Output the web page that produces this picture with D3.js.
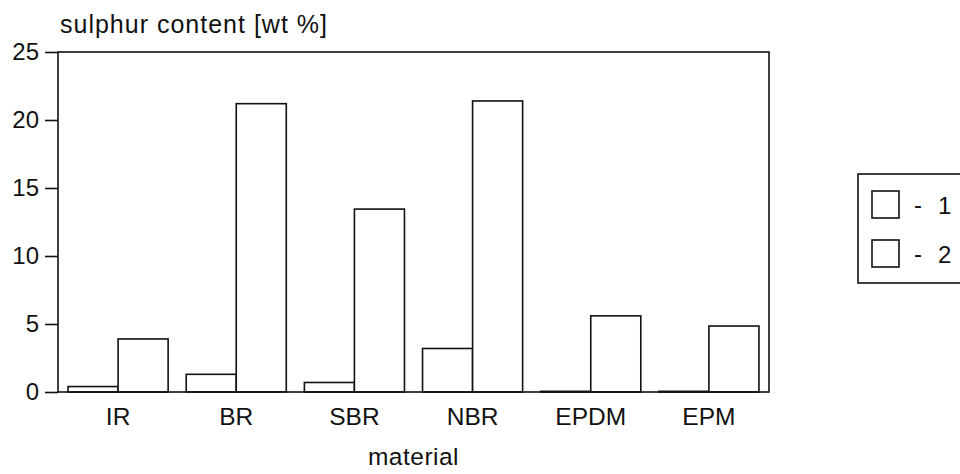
<!DOCTYPE html>
<html>
<head>
<meta charset="utf-8">
<script src="https://cdn.jsdelivr.net/npm/d3@7"></script>
<style>
  html, body { margin: 0; padding: 0; background: #fff; }
  svg { display: block; }
  text { font-family: "Liberation Sans", Arial, Helvetica, sans-serif; fill: #111; }
</style>
</head>
<body>
<svg id="chart" width="960" height="474"></svg>
<script>
// Sulphur content of rubber materials, two series
const materials = ["IR", "BR", "SBR", "NBR", "EPDM", "EPM"];
const seriesKeys = ["1", "2"];
const series1 = [0.4, 1.3, 0.7, 3.2, 0.05, 0.05];
const series2 = [3.9, 21.2, 13.45, 21.4, 5.6, 4.85];
const yTicks = [0, 5, 10, 15, 20, 25];

const rows = materials.map((m, i) => ({ material: m, values: [series1[i], series2[i]] }));

const svg = d3.select("#chart");
const margin = { left: 58, top: 52, right: 191, bottom: 82 };
const W = 960, H = 474;
const plotW = W - margin.left - margin.right;
const plotH = H - margin.top - margin.bottom;

const g = svg.append("g").attr("transform", `translate(${margin.left},${margin.top})`);

const x = d3.scaleBand().domain(materials).range([0, plotW])
  .paddingInner(0.153).paddingOuter(0.085);
const xs = d3.scaleBand().domain(seriesKeys).range([0, x.bandwidth()]);
const y = d3.scaleLinear().domain([0, 25]).range([plotH, 0]);

const ink = "#111";
const sw = 1.6;

// bars
const groups = g.selectAll("g.grp").data(rows).join("g")
  .attr("class", "grp")
  .attr("transform", d => `translate(${x(d.material)},0)`);
groups.selectAll("rect").data(d => d.values.map((v, k) => ({ key: seriesKeys[k], v })))
  .join("rect")
  .attr("x", d => xs(d.key))
  .attr("width", xs.bandwidth())
  .attr("y", d => y(d.v))
  .attr("height", d => plotH - y(d.v))
  .attr("fill", "#fff")
  .attr("stroke", ink)
  .attr("stroke-width", sw);

// frame
g.append("rect").attr("x", 0).attr("y", 0).attr("width", plotW).attr("height", plotH)
  .attr("fill", "none").attr("stroke", ink).attr("stroke-width", sw);

// y axis
const yAxis = d3.axisLeft(y).tickValues(yTicks).tickSize(13).tickPadding(6);
const ya = g.append("g").call(yAxis);
ya.select(".domain").remove();
ya.selectAll("line").attr("stroke", ink).attr("stroke-width", sw);
ya.selectAll("text").attr("font-size", 24).attr("fill", ink)
  .style("font-family", "'Liberation Sans', Arial, sans-serif");

// x axis labels
const xAxis = d3.axisBottom(x).tickSize(0).tickPadding(16);
const xa = g.append("g").attr("transform", `translate(0,${plotH})`).call(xAxis);
xa.select(".domain").remove();
xa.selectAll("text").attr("font-size", 24.5).attr("fill", ink)
  .style("font-family", "'Liberation Sans', Arial, sans-serif");

// axis titles
svg.append("text").attr("x", 60).attr("y", 33).attr("font-size", 25)
  .attr("letter-spacing", 1).text("sulphur content [wt %]");
svg.append("text").attr("x", margin.left + plotW / 2).attr("y", 465)
  .attr("text-anchor", "middle").attr("font-size", 24.5)
  .attr("letter-spacing", 0.5).text("material");

// legend
const lg = svg.append("g").attr("transform", "translate(858,174)");
lg.append("rect").attr("width", 110).attr("height", 109)
  .attr("fill", "none").attr("stroke", ink).attr("stroke-width", sw);
const li = lg.selectAll("g.item").data(seriesKeys).join("g")
  .attr("class", "item")
  .attr("transform", (d, i) => `translate(14,${17 + i * 49})`);
li.append("rect").attr("width", 27).attr("height", 27)
  .attr("fill", "#fff").attr("stroke", ink).attr("stroke-width", sw);
li.append("text").attr("x", 42).attr("y", 22).attr("font-size", 24).text("-");
li.append("text").attr("x", 66).attr("y", 23).attr("font-size", 24).text(d => d);
</script>
</body>
</html>
